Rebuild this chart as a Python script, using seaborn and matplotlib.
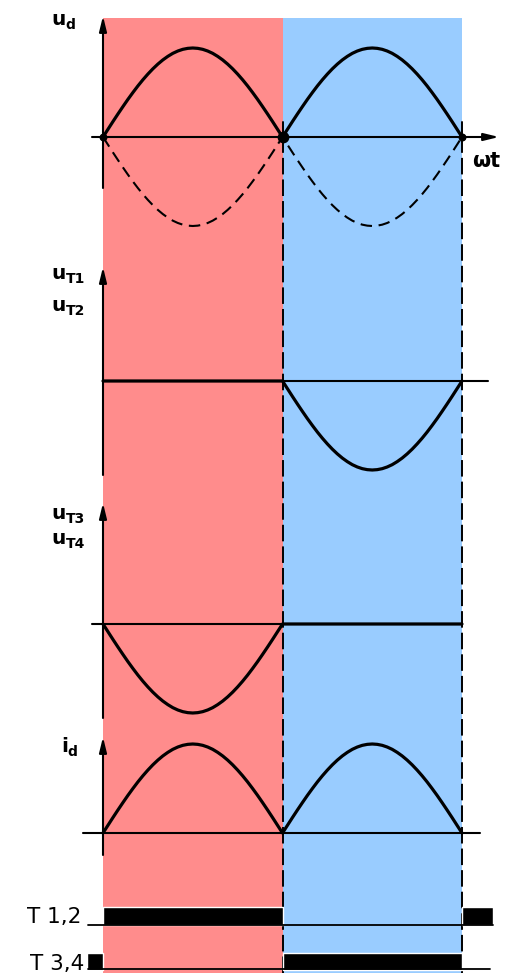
import matplotlib
matplotlib.use("Agg")
import matplotlib.pyplot as plt
import seaborn as sns

# ---------------- data ----------------
# phase angle omega*t in degrees (two half periods, 5 degree steps)
wt_deg = list(range(0, 361, 5))

# normalised half-wave shape (0..180 deg, 5 degree steps)
half_wave = [0.000, 0.087, 0.174, 0.259, 0.342, 0.423, 0.500, 0.574, 0.643, 0.707,
             0.766, 0.819, 0.866, 0.906, 0.940, 0.966, 0.985, 0.996, 1.000,
             0.996, 0.985, 0.966, 0.940, 0.906, 0.866, 0.819, 0.766, 0.707, 0.643,
             0.574, 0.500, 0.423, 0.342, 0.259, 0.174, 0.087, 0.000]
flat_half = [0.0] * 37
neg_half = [-v for v in half_wave]

# output voltage (rectified), mirrored dashed source halves, thyristor voltages, current
u_d = half_wave + half_wave[1:]
u_d_mirror = neg_half + neg_half[1:]
u_T12 = flat_half + neg_half[1:]
u_T34 = neg_half + flat_half[1:]
i_d = half_wave + half_wave[1:]

# conduction intervals (start, width) in degrees
T12_on = [(0, 180), (360, 31)]
T34_on = [(-16, 16), (180, 180)]

# labels
panel_labels = [("u", "d"), ("u", "T1"), ("u", "T2"), ("u", "T3"), ("u", "T4"), ("i", "d")]
thyristor_labels = ["T 1,2", "T 3,4"]
x_label = "ωt"

# ---------------- layout ----------------
W, H = 511, 973
X0_PX = 103.0
PX_PER_DEG = (462 - 103) / 360.0
AMP = 89.0          # pixel amplitude of a normalised 1.0


def deg(px):
    return (px - X0_PX) / PX_PER_DEG


sns.set_style("white")
plt.rcParams["font.family"] = ["DejaVu Sans"]
plt.rcParams["text.color"] = "black"

fig = plt.figure(figsize=(W / 100, H / 100), dpi=100)
ax = fig.add_axes([0, 0, 1, 1])
ax.set_xlim(deg(0), deg(W))
ax.set_ylim(H, 0)
ax.axis("off")

RED = "#ff8c8c"
BLUE = "#99ccff"
top_frac = 1 - 18 / H
ax.axvspan(0, 180, ymin=0, ymax=top_frac, color=RED, lw=0, zorder=0)
ax.axvspan(180, 360, ymin=0, ymax=top_frac, color=BLUE, lw=0, zorder=0)

# dashed separators
for xv in (180, 360):
    ax.axvline(xv, ymin=0, ymax=1 - 137 / H, color="k", lw=1.4,
               linestyle=(0, (8.5, 2.6)), zorder=2)
    ax.plot([xv, xv], [122, 137], color="k", lw=1.4, zorder=2)

arrow_kw = dict(arrowstyle="-|>,head_length=0.9,head_width=0.22", color="k",
                lw=1.5, shrinkA=0, shrinkB=0)


def axis_lines(base, x_from, x_to, y_bot, y_top, x_arrow=False):
    if x_arrow:
        ax.annotate("", xy=(x_to, base), xytext=(x_from, base), arrowprops=arrow_kw, zorder=3)
    else:
        ax.plot([x_from, x_to], [base, base], color="k", lw=1.5, zorder=3)
    ax.annotate("", xy=(0, y_top), xytext=(0, y_bot), arrowprops=arrow_kw, zorder=3)


def curve(base, vals, **kw):
    y = [base - AMP * v for v in vals]
    sns.lineplot(x=wt_deg, y=y, ax=ax, color="k", sort=False, estimator=None,
                 errorbar=None, zorder=4, **kw)


# panel 1: u_d
B1 = 137
axis_lines(B1, deg(92), deg(499), 188, 16, x_arrow=True)
curve(B1, u_d, lw=2.3)
curve(B1, u_d_mirror, lw=1.5, linestyle=(0, (5.5, 3.2)))
ax.scatter([0, 360], [B1, B1], s=22, color="k", zorder=5)
ax.scatter([180], [B1], s=55, color="k", zorder=5)

# panel 2: u_T1, u_T2
B2 = 381
axis_lines(B2, deg(103), deg(488), 475, 267)
curve(B2, u_T12, lw=2.3)

# panel 3: u_T3, u_T4
B3 = 624
axis_lines(B3, deg(92), deg(462), 718, 503)
curve(B3, u_T34, lw=2.3)

# panel 4: i_d
B4 = 833
axis_lines(B4, deg(83), deg(480), 855, 737)
curve(B4, i_d, lw=2.3)

# thyristor conduction bars
ax.broken_barh(T12_on, (907, 18), facecolors="k", zorder=4)
ax.plot([deg(88), deg(493)], [925, 925], color="k", lw=1.3, zorder=4)
ax.broken_barh(T34_on, (953, 17), facecolors="k", zorder=4)
ax.plot([deg(88), deg(490)], [969, 969], color="k", lw=1.3, zorder=4)


# labels
def sym(x_px, y_px, main, sub, sub_dx=14.5):
    ax.text(deg(x_px), y_px, main, fontsize=14.5, fontweight="bold", color="k",
            ha="left", va="baseline", zorder=6)
    ax.text(deg(x_px + sub_dx), y_px + 4, sub, fontsize=10, fontweight="bold", color="k",
            ha="left", va="baseline", zorder=6)


sym(51, 25, *panel_labels[0])
sym(51, 279, *panel_labels[1])
sym(51, 311, *panel_labels[2])
sym(51, 519, *panel_labels[3])
sym(51, 544, *panel_labels[4])
sym(61, 752, *panel_labels[5], sub_dx=6.5)

ax.text(deg(472), 167, x_label, fontsize=15, fontweight="bold", color="k",
        ha="left", va="baseline")

ax.text(deg(81), 923, thyristor_labels[0], fontsize=15.5, color="k",
        ha="right", va="baseline")
ax.text(deg(84), 970, thyristor_labels[1], fontsize=15.5, color="k",
        ha="right", va="baseline")

fig.savefig("out.png", dpi=100)
